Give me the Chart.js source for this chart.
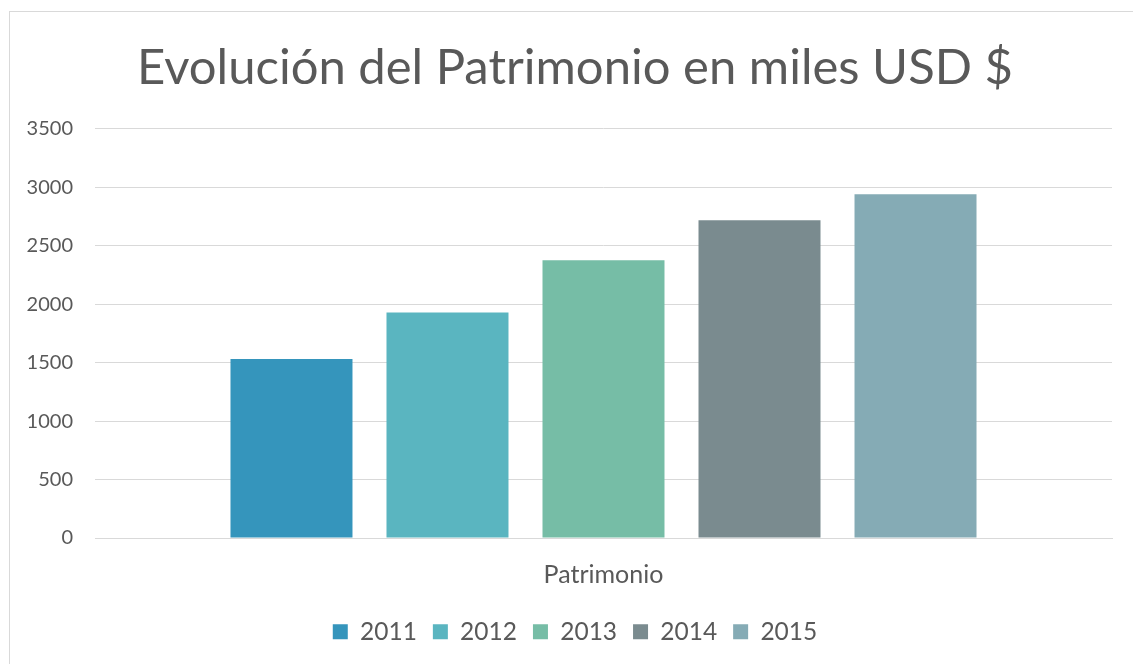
<!DOCTYPE html>
<html>
<head>
<meta charset="utf-8">
<script src="https://cdn.jsdelivr.net/npm/chart.js@4/dist/chart.umd.min.js"></script>
<style>
    html, body { margin: 0; padding: 0; background: #fff; overflow: hidden; }
    #frame {
        position: absolute; left: 9px; top: 11px;
        width: 1140px; height: 670px;
        border: 1px solid #d9d9d9; box-sizing: border-box;
    }
    #wrap { position: absolute; left: 0; top: 0; width: 1133px; height: 664px; }
</style>
</head>
<body>
<div id="frame"></div>
<div id="wrap"><canvas id="chart"></canvas></div>
<script>
const categories = ["Patrimonio"];
const years = ["2011", "2012", "2013", "2014", "2015"];
const values = [1532, 1928, 2375, 2718, 2940];
const colors = ["#3595bc", "#5ab5c0", "#76bda6", "#7a8b8f", "#85abb5"];
const yTicks = [0, 500, 1000, 1500, 2000, 2500, 3000, 3500];

const textColor = "#595959";
const gridColor = "#d9d9d9";
const fontFamily = "Lato, 'Open Sans', sans-serif";

const datasets = years.map((year, i) => ({
    label: year,
    data: [values[i]],
    backgroundColor: colors[i],
    borderWidth: 0,
    categoryPercentage: 0.767,
    barPercentage: 0.782
}));

const ctx = document.getElementById("chart").getContext("2d");
new Chart(ctx, {
    type: "bar",
    data: { labels: categories, datasets: datasets },
    options: {
        responsive: true,
        maintainAspectRatio: false,
        animation: false,
        layout: { padding: { left: 20, right: 3, top: 20, bottom: 10 } },
        plugins: {
            title: {
                display: true,
                text: "Evolución del Patrimonio en miles USD $",
                color: textColor,
                font: { family: fontFamily, size: 49, weight: "normal" },
                padding: { top: 19, bottom: 31 }
            },
            legend: {
                position: "bottom",
                labels: {
                    color: textColor,
                    font: { family: fontFamily, size: 24.5 },
                    boxWidth: 15,
                    boxHeight: 15,
                    padding: 16
                }
            },
            tooltip: { enabled: false }
        },
        scales: {
            x: {
                grid: { display: false },
                border: { color: gridColor, width: 1 },
                ticks: {
                    color: textColor,
                    font: { family: fontFamily, size: 25, lineHeight: 0.9 },
                    padding: 17.5
                }
            },
            y: {
                min: 0,
                max: 3500,
                afterBuildTicks: (axis) => {
                    axis.ticks = yTicks.map(v => ({ value: v }));
                },
                afterFit: (axis) => { axis.width = 75; },
                grid: { color: gridColor, drawTicks: false },
                border: { display: false },
                ticks: {
                    color: textColor,
                    font: { family: fontFamily, size: 20 },
                    padding: 22,
                    callback: (value) => String(value)
                }
            },
            // empty right axis only to keep the plot clear of the right edge
            yRight: {
                position: "right",
                afterFit: (axis) => { axis.width = 18; },
                grid: { display: false },
                border: { display: false },
                ticks: { display: false }
            }
        }
    }
});
</script>
</body>
</html>
